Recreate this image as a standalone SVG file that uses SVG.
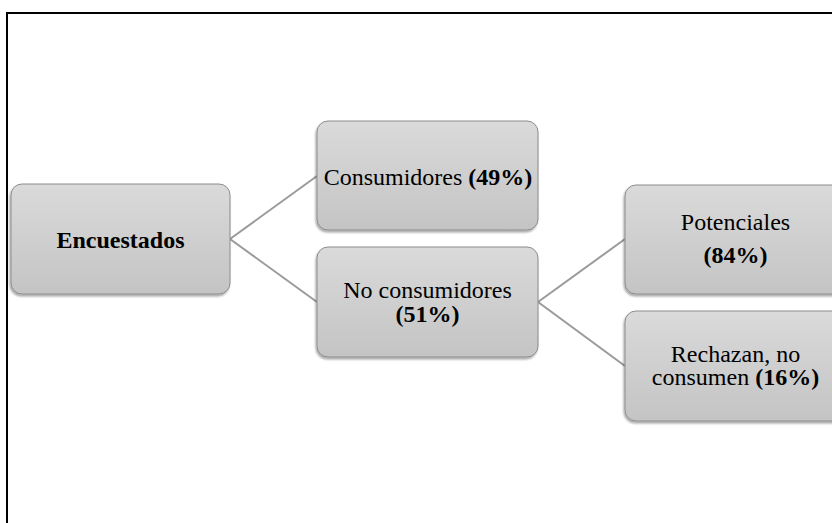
<svg xmlns="http://www.w3.org/2000/svg" width="832" height="523" viewBox="0 0 832 523">
<defs>
<linearGradient id="g" x1="0" y1="0" x2="0" y2="1">
<stop offset="0" stop-color="#dadada"/>
<stop offset="1" stop-color="#c4c4c4"/>
</linearGradient>
<filter id="sh" x="-5%" y="-5%" width="110%" height="115%">
<feGaussianBlur in="SourceAlpha" stdDeviation="1.2"/>
<feOffset dx="-1" dy="2" result="b"/>
<feComponentTransfer><feFuncA type="linear" slope="0.35"/></feComponentTransfer>
<feMerge><feMergeNode/><feMergeNode in="SourceGraphic"/></feMerge>
</filter>
</defs>
<style>
.box{fill:url(#g);stroke:#8c8c8c;stroke-width:1;filter:url(#sh)}
.t{font-family:"Liberation Serif","Times New Roman",serif;font-size:24px;fill:#000;text-anchor:middle}
.b{font-weight:bold}
.c{stroke:#9a9a9a;stroke-width:2;fill:none}
</style>
<rect x="0" y="0" width="832" height="523" fill="#fff"/>
<path d="M7 523 V13 H832" fill="none" stroke="#000" stroke-width="2"/>
<g id="connectors">
<line class="c" x1="230" y1="239" x2="317" y2="176"/>
<line class="c" x1="230" y1="239" x2="317" y2="302"/>
<line class="c" x1="538" y1="302" x2="625" y2="239"/>
<line class="c" x1="538" y1="302" x2="625" y2="366"/>
</g>
<g id="encuestados">
<rect class="box" x="11" y="184" width="219" height="110" rx="11"/>
<text class="t b" x="120.5" y="248">Encuestados</text>
</g>
<g id="consumidores">
<rect class="box" x="317" y="121" width="221" height="109" rx="11"/>
<text class="t" x="428" y="185">Consumidores <tspan class="b">(49%)</tspan></text>
</g>
<g id="no-consumidores">
<rect class="box" x="317" y="247" width="221" height="110" rx="11"/>
<text class="t" x="427.5" y="298">No consumidores</text>
<text class="t b" x="427.5" y="322">(51%)</text>
</g>
<g id="potenciales">
<rect class="box" x="625" y="185" width="221" height="109" rx="11"/>
<text class="t" x="735.5" y="230">Potenciales</text>
<text class="t b" x="735.5" y="263">(84%)</text>
</g>
<g id="rechazan">
<rect class="box" x="625" y="311" width="221" height="110" rx="11"/>
<text class="t" x="735.5" y="362">Rechazan, no</text>
<text class="t" x="735.5" y="385">consumen <tspan class="b">(16%)</tspan></text>
</g>
</svg>
